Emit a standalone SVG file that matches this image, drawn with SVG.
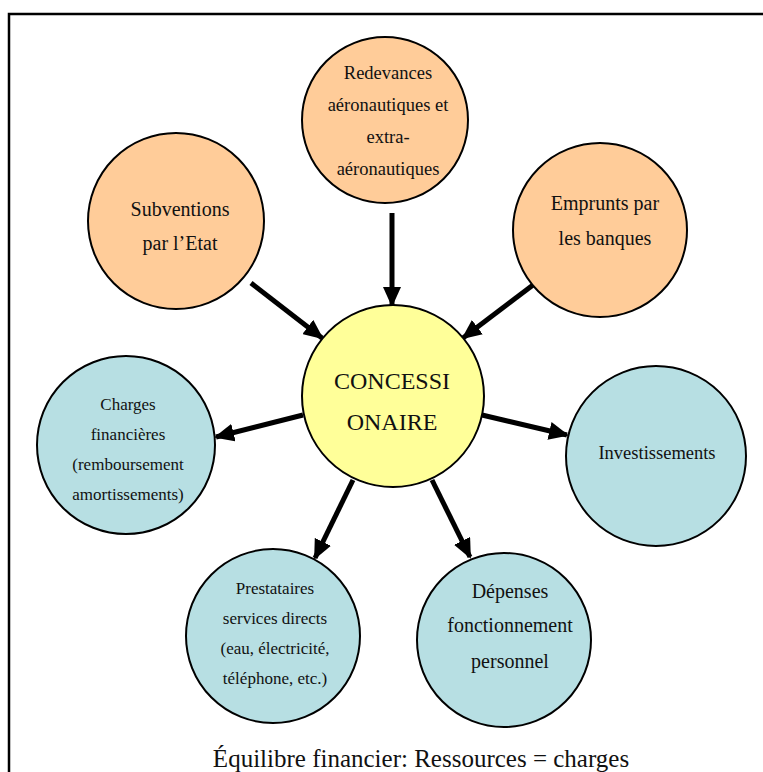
<svg xmlns="http://www.w3.org/2000/svg" width="763" height="772" viewBox="0 0 763 772">
  <style>
    .res { fill: #FFCC99; stroke: #000; stroke-width: 2; }
    .core { fill: #FFFF99; stroke: #000; stroke-width: 2; }
    .use { fill: #B7DFE3; stroke: #000; stroke-width: 2; }
    text { font-family: "Liberation Serif", "Times New Roman", serif; fill: #111; text-anchor: middle; }
    .arrow { stroke: #000; stroke-width: 5; fill: none; marker-end: url(#head); }
  </style>
  <defs>
    <marker id="head" markerUnits="userSpaceOnUse" markerWidth="20" markerHeight="18" refX="18" refY="9" orient="auto">
      <path d="M0,0 L20,9 L0,18 Z" fill="#000"/>
    </marker>
  </defs>
  <rect width="763" height="772" fill="#fff"/>
  <rect x="9" y="14" width="780" height="800" fill="none" stroke="#000" stroke-width="2.5"/>

  <g id="connectors">
    <line class="arrow" x1="392" y1="213" x2="392" y2="305"/>
    <line class="arrow" x1="251" y1="283" x2="322" y2="338"/>
    <line class="arrow" x1="533" y1="285" x2="463" y2="338"/>
    <line class="arrow" x1="303" y1="415" x2="216" y2="437"/>
    <line class="arrow" x1="482" y1="415" x2="567" y2="435"/>
    <line class="arrow" x1="353" y1="480" x2="315" y2="558"/>
    <line class="arrow" x1="432" y1="480" x2="470" y2="557"/>
  </g>

  <g id="redevances" style="font-size:18.5px">
    <circle class="res" cx="385" cy="120" r="83"/>
    <text x="388" y="79">Redevances</text>
    <text x="388" y="111">aéronautiques et</text>
    <text x="388" y="143">extra-</text>
    <text x="388" y="175">aéronautiques</text>
  </g>

  <g id="subventions" style="font-size:20px">
    <circle class="res" cx="176" cy="221" r="88"/>
    <text x="180" y="216">Subventions</text>
    <text x="180" y="250">par l’Etat</text>
  </g>

  <g id="emprunts" style="font-size:20px">
    <circle class="res" cx="600" cy="230" r="87"/>
    <text x="605" y="210">Emprunts par</text>
    <text x="605" y="245">les banques</text>
  </g>

  <g id="concessionaire" style="font-size:24px">
    <circle class="core" cx="393" cy="396" r="91"/>
    <text x="392" y="389">CONCESSI</text>
    <text x="392" y="430">ONAIRE</text>
  </g>

  <g id="charges" style="font-size:17px">
    <circle class="use" cx="126" cy="445" r="89"/>
    <text x="128" y="410">Charges</text>
    <text x="128" y="440">financières</text>
    <text x="128" y="470">(remboursement</text>
    <text x="128" y="500">amortissements)</text>
  </g>

  <g id="investissements" style="font-size:18.5px">
    <circle class="use" cx="656" cy="456" r="90"/>
    <text x="657" y="459">Investissements</text>
  </g>

  <g id="prestataires" style="font-size:17px">
    <circle class="use" cx="273" cy="636" r="87"/>
    <text x="275" y="594">Prestataires</text>
    <text x="275" y="624">services directs</text>
    <text x="275" y="654">(eau, électricité,</text>
    <text x="275" y="684">téléphone, etc.)</text>
  </g>

  <g id="depenses" style="font-size:20px">
    <circle class="use" cx="504" cy="640" r="87"/>
    <text x="510" y="598">Dépenses</text>
    <text x="510" y="632">fonctionnement</text>
    <text x="510" y="668">personnel</text>
  </g>

  <text id="caption" x="421" y="767" style="font-size:25px">Équilibre financier: Ressources = charges</text>
</svg>
